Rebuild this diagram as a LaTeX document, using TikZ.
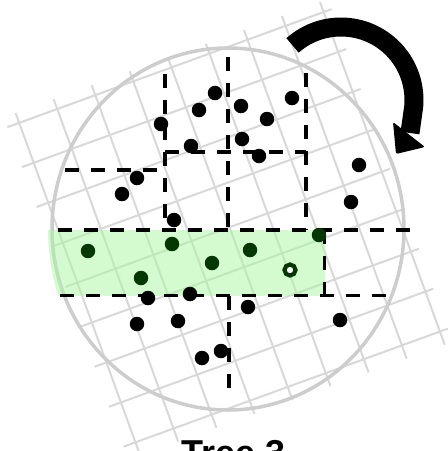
\documentclass[tikz,border=0pt]{standalone}
\usepackage{fontspec}
\newfontfamily\titlefont{Liberation Sans}
\usetikzlibrary{arrows.meta}
\definecolor{gridgray}{RGB}{216,216,216}
\definecolor{ringgray}{RGB}{205,205,205}
\definecolor{bandgreen}{RGB}{170,245,160}
\definecolor{darkgreen}{RGB}{5,55,5}
\begin{document}
\begin{tikzpicture}[x=1pt,y=-1pt,
  gridline/.style={gridgray,line width=2pt},
  cut/.style={black,line width=3.6pt,dash pattern=on 14pt off 12pt},
  dot/.style={circle,fill=black,inner sep=0pt,minimum size=14.5pt},
  gdot/.style={dot,fill=darkgreen},
  ringdot/.style={circle,draw=darkgreen,line width=4.2pt,fill=white,inner sep=0pt,minimum size=11pt}]
\useasboundingbox (0,0) rectangle (448,451);
\clip (0,0) rectangle (448,451);
% rotated grid
\begin{scope}[rotate=20]
  \foreach \k in {0,...,8}
    \draw[gridline] ({-24+40.5*\k},111.5) -- ({-24+40.5*\k},476);
  \foreach \j in {0,...,8}
    \draw[gridline] (-36.5,{122+42.5*\j}) -- (308.5,{122+42.5*\j});
\end{scope}
% circle
\draw[ringgray,line width=3.5pt] (228,229) ellipse [x radius=176pt, y radius=181pt];
% green band
\begin{scope}
  \clip (228,229) ellipse [x radius=180pt, y radius=200pt];
  \fill[bandgreen,opacity=0.5] (40,230) rectangle (324.5,295.5);
\end{scope}
% split lines
\draw[cut] (165,74) -- (165,230);
\draw[cut] (65,170) -- (165,170);
\draw[cut] (228,57) -- (228,230);
\draw[cut] (165,152) -- (306,152);
\draw[cut] (306,73) -- (306,230);
\draw[cut] (58,230) -- (411,230);
\draw[cut] (60,295.5) -- (397,295.5);
\draw[cut] (324.5,230) -- (324.5,295.5);
\draw[cut] (229,295.5) -- (229,398);
% points
\node[dot] (p1) at (215,93) {};
\node[dot] (p2) at (199,110) {};
\node[dot] (p3) at (161,124) {};
\node[dot] (p4) at (191,146) {};
\node[dot] (p5) at (137,178) {};
\node[dot] (p6) at (122,194) {};
\node[dot] (p7) at (174,220) {};
\node[dot] (p8) at (241,106) {};
\node[dot] (p9) at (292,98) {};
\node[dot] (p10) at (267,119) {};
\node[dot] (p11) at (242,139) {};
\node[dot] (p12) at (259,156) {};
\node[dot] (p13) at (359,165) {};
\node[dot] (p14) at (351,202) {};
\node[gdot] (g1) at (88,251) {};
\node[gdot] (g2) at (172,244) {};
\node[gdot] (g3) at (141,278) {};
\node[gdot] (g4) at (212,263) {};
\node[gdot] (g5) at (250,250) {};
\node[gdot] (g6) at (319,235) {};
\node[ringdot] (r1) at (290,270) {};
\node[dot] (p15) at (148,298) {};
\node[dot] (p16) at (190,294) {};
\node[dot] (p17) at (137,324) {};
\node[dot] (p18) at (178,321) {};
\node[dot] (p19) at (202,358) {};
\node[dot] (p20) at (221,351) {};
\node[dot] (p21) at (248,307) {};
\node[dot] (p22) at (340,320) {};
% rotation arrow
\draw[black,line width=19pt] ([shift={(131.6:73pt)}]341,100) arc[start angle=131.6, end angle=-5, radius=73pt] -- (410,133);
\fill[black,rounded corners=2pt] (393,122) -- (425,147) -- (396,154) -- cycle;
% title
\node[anchor=base west, inner sep=0pt] (title) at (181,465) {\titlefont\bfseries\fontsize{36}{40}\selectfont Tree 3};
\end{tikzpicture}
\end{document}
